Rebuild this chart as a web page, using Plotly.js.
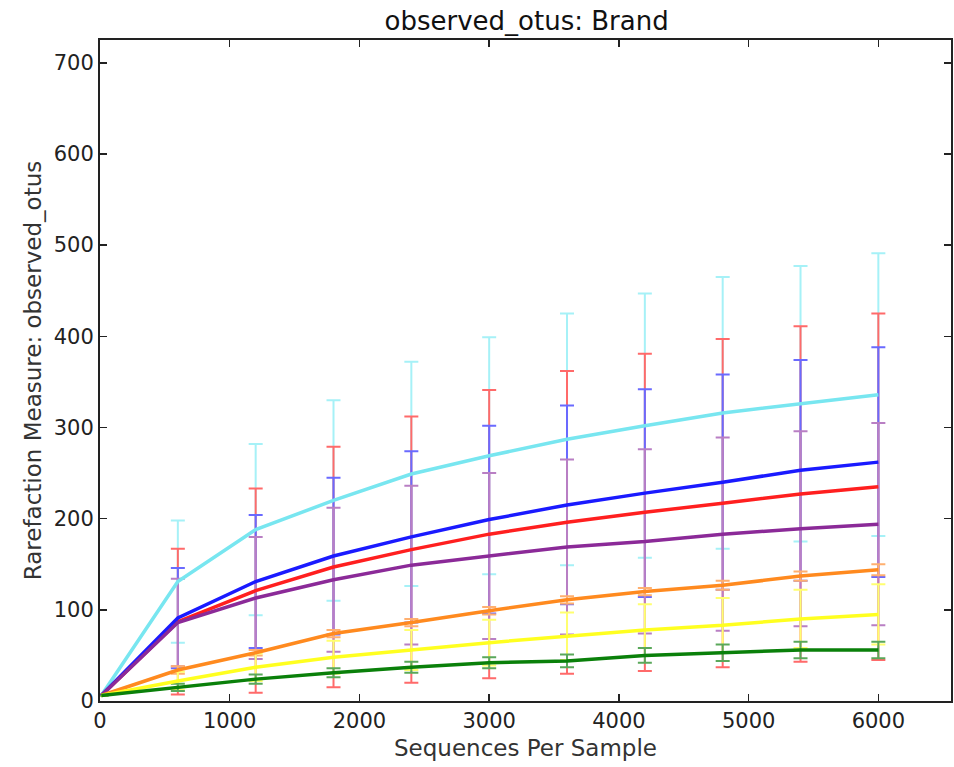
<!DOCTYPE html>
<html>
<head>
<meta charset="utf-8">
<script src="https://cdn.plot.ly/plotly-3.0.1.min.js"></script>
<style>html,body{margin:0;padding:0;background:#fff;}#chart{width:954px;height:767px;}</style>
</head>
<body>
<div id="chart"></div>
<script>
// Sequences per sample (x positions)
var seqs = [10, 600, 1200, 1800, 2400, 3000, 3600, 4200, 4800, 5400, 6000];

// Series names / colours (one per brand group)
var names = ["cyan", "red", "blue", "purple", "orange", "yellow", "green"];
var lineColors = ["#78e6f0", "#ff1f1f", "#1a1aff", "#8b2a98", "#ff8a1f", "#ffff20", "#0a800a"];
var barColors = ["#a6f1f7", "#ff6a6a", "#6a6aff", "#b97fc4", "#ffb070", "#ffff70", "#5aa85a"];

// Mean observed OTUs
var cyanMean   = [6, 131, 188, 220, 249, 269, 287, 302, 316, 326, 336];
var redMean    = [6, 87, 121, 147, 166, 183, 196, 207, 217, 227, 235];
var blueMean   = [6, 91, 131, 159, 180, 199, 215, 228, 240, 253, 262];
var purpleMean = [6, 86, 113, 133, 149, 159, 169, 175, 183, 189, 194];
var orangeMean = [6, 34, 53, 74, 86, 99, 111, 120, 127, 137, 144];
var yellowMean = [6, 22, 37, 48, 56, 64, 71, 78, 83, 90, 95];
var greenMean  = [6, 15, 24, 31, 37, 42, 44, 50, 53, 56, 56];

// Standard deviations (error bars)
var cyanSd   = [0, 67, 94, 110, 123, 130, 138, 145, 149, 151, 155];
var redSd    = [0, 80, 112, 132, 146, 158, 166, 174, 180, 184, 190];
var blueSd   = [0, 55, 73, 86, 94, 103, 109, 114, 118, 121, 126];
var purpleSd = [0, 48, 67, 79, 87, 91, 96, 101, 106, 107, 111];
var orangeSd = [0, 4, 3, 4, 4, 4, 4, 4, 5, 5, 6];
var yellowSd = [0, 10, 15, 18, 22, 25, 26, 28, 30, 32, 33];
var greenSd  = [0, 4, 5, 5, 6, 6, 7, 8, 9, 9, 9];

var means = [cyanMean, redMean, blueMean, purpleMean, orangeMean, yellowMean, greenMean];
var sds = [cyanSd, redSd, blueSd, purpleSd, orangeSd, yellowSd, greenSd];

var xTicks = [0, 1000, 2000, 3000, 4000, 5000, 6000];
var yTicks = [0, 100, 200, 300, 400, 500, 600, 700];

var traces = [];
// error bars first
for (var i = 0; i < names.length; i++) {
  traces.push({
    x: seqs, y: means[i], type: "scatter", mode: "markers",
    marker: {size: 1, color: "rgba(0,0,0,0)"},
    error_y: {type: "data", array: sds[i], visible: true, color: barColors[i], thickness: 2, width: 7},
    hoverinfo: "skip", showlegend: false
  });
}
// lines on top
for (var j = 0; j < names.length; j++) {
  traces.push({
    x: seqs, y: means[j], type: "scatter", mode: "lines",
    line: {color: lineColors[j], width: 3.5},
    name: names[j], showlegend: false
  });
}

var font = "DejaVu Sans, sans-serif";
var layout = {
  width: 954, height: 767,
  margin: {l: 100, r: 3, t: 40, b: 66},
  paper_bgcolor: "#ffffff", plot_bgcolor: "#ffffff",
  font: {family: font, color: "#222"},
  title: {text: "observed_otus: Brand", font: {family: font, size: 26, color: "#111"}, x: 0.552, xanchor: "center", y: 0.973, yanchor: "middle"},
  xaxis: {
    range: [0, 6560], tickvals: xTicks, ticktext: xTicks.map(String),
    ticks: "inside", ticklen: 7, tickwidth: 1.5, tickcolor: "#222",
    showline: true, linecolor: "#222", linewidth: 2, mirror: "ticks",
    showgrid: false, zeroline: false,
    tickfont: {family: font, size: 21, color: "#222"},
    title: {text: "Sequences Per Sample", font: {family: font, size: 23, color: "#333"}, standoff: 8}
  },
  yaxis: {
    range: [0, 725], tickvals: yTicks, ticktext: yTicks.map(String),
    ticks: "inside", ticklen: 7, tickwidth: 1.5, tickcolor: "#222",
    showline: true, linecolor: "#222", linewidth: 2, mirror: "ticks",
    showgrid: false, zeroline: false,
    tickfont: {family: font, size: 21, color: "#222"},
    title: {text: "Rarefaction Measure: observed_otus", font: {family: font, size: 23, color: "#333"}, standoff: 6}
  }
};

Plotly.newPlot("chart", traces, layout, {displayModeBar: false, staticPlot: true});
</script>
</body>
</html>
